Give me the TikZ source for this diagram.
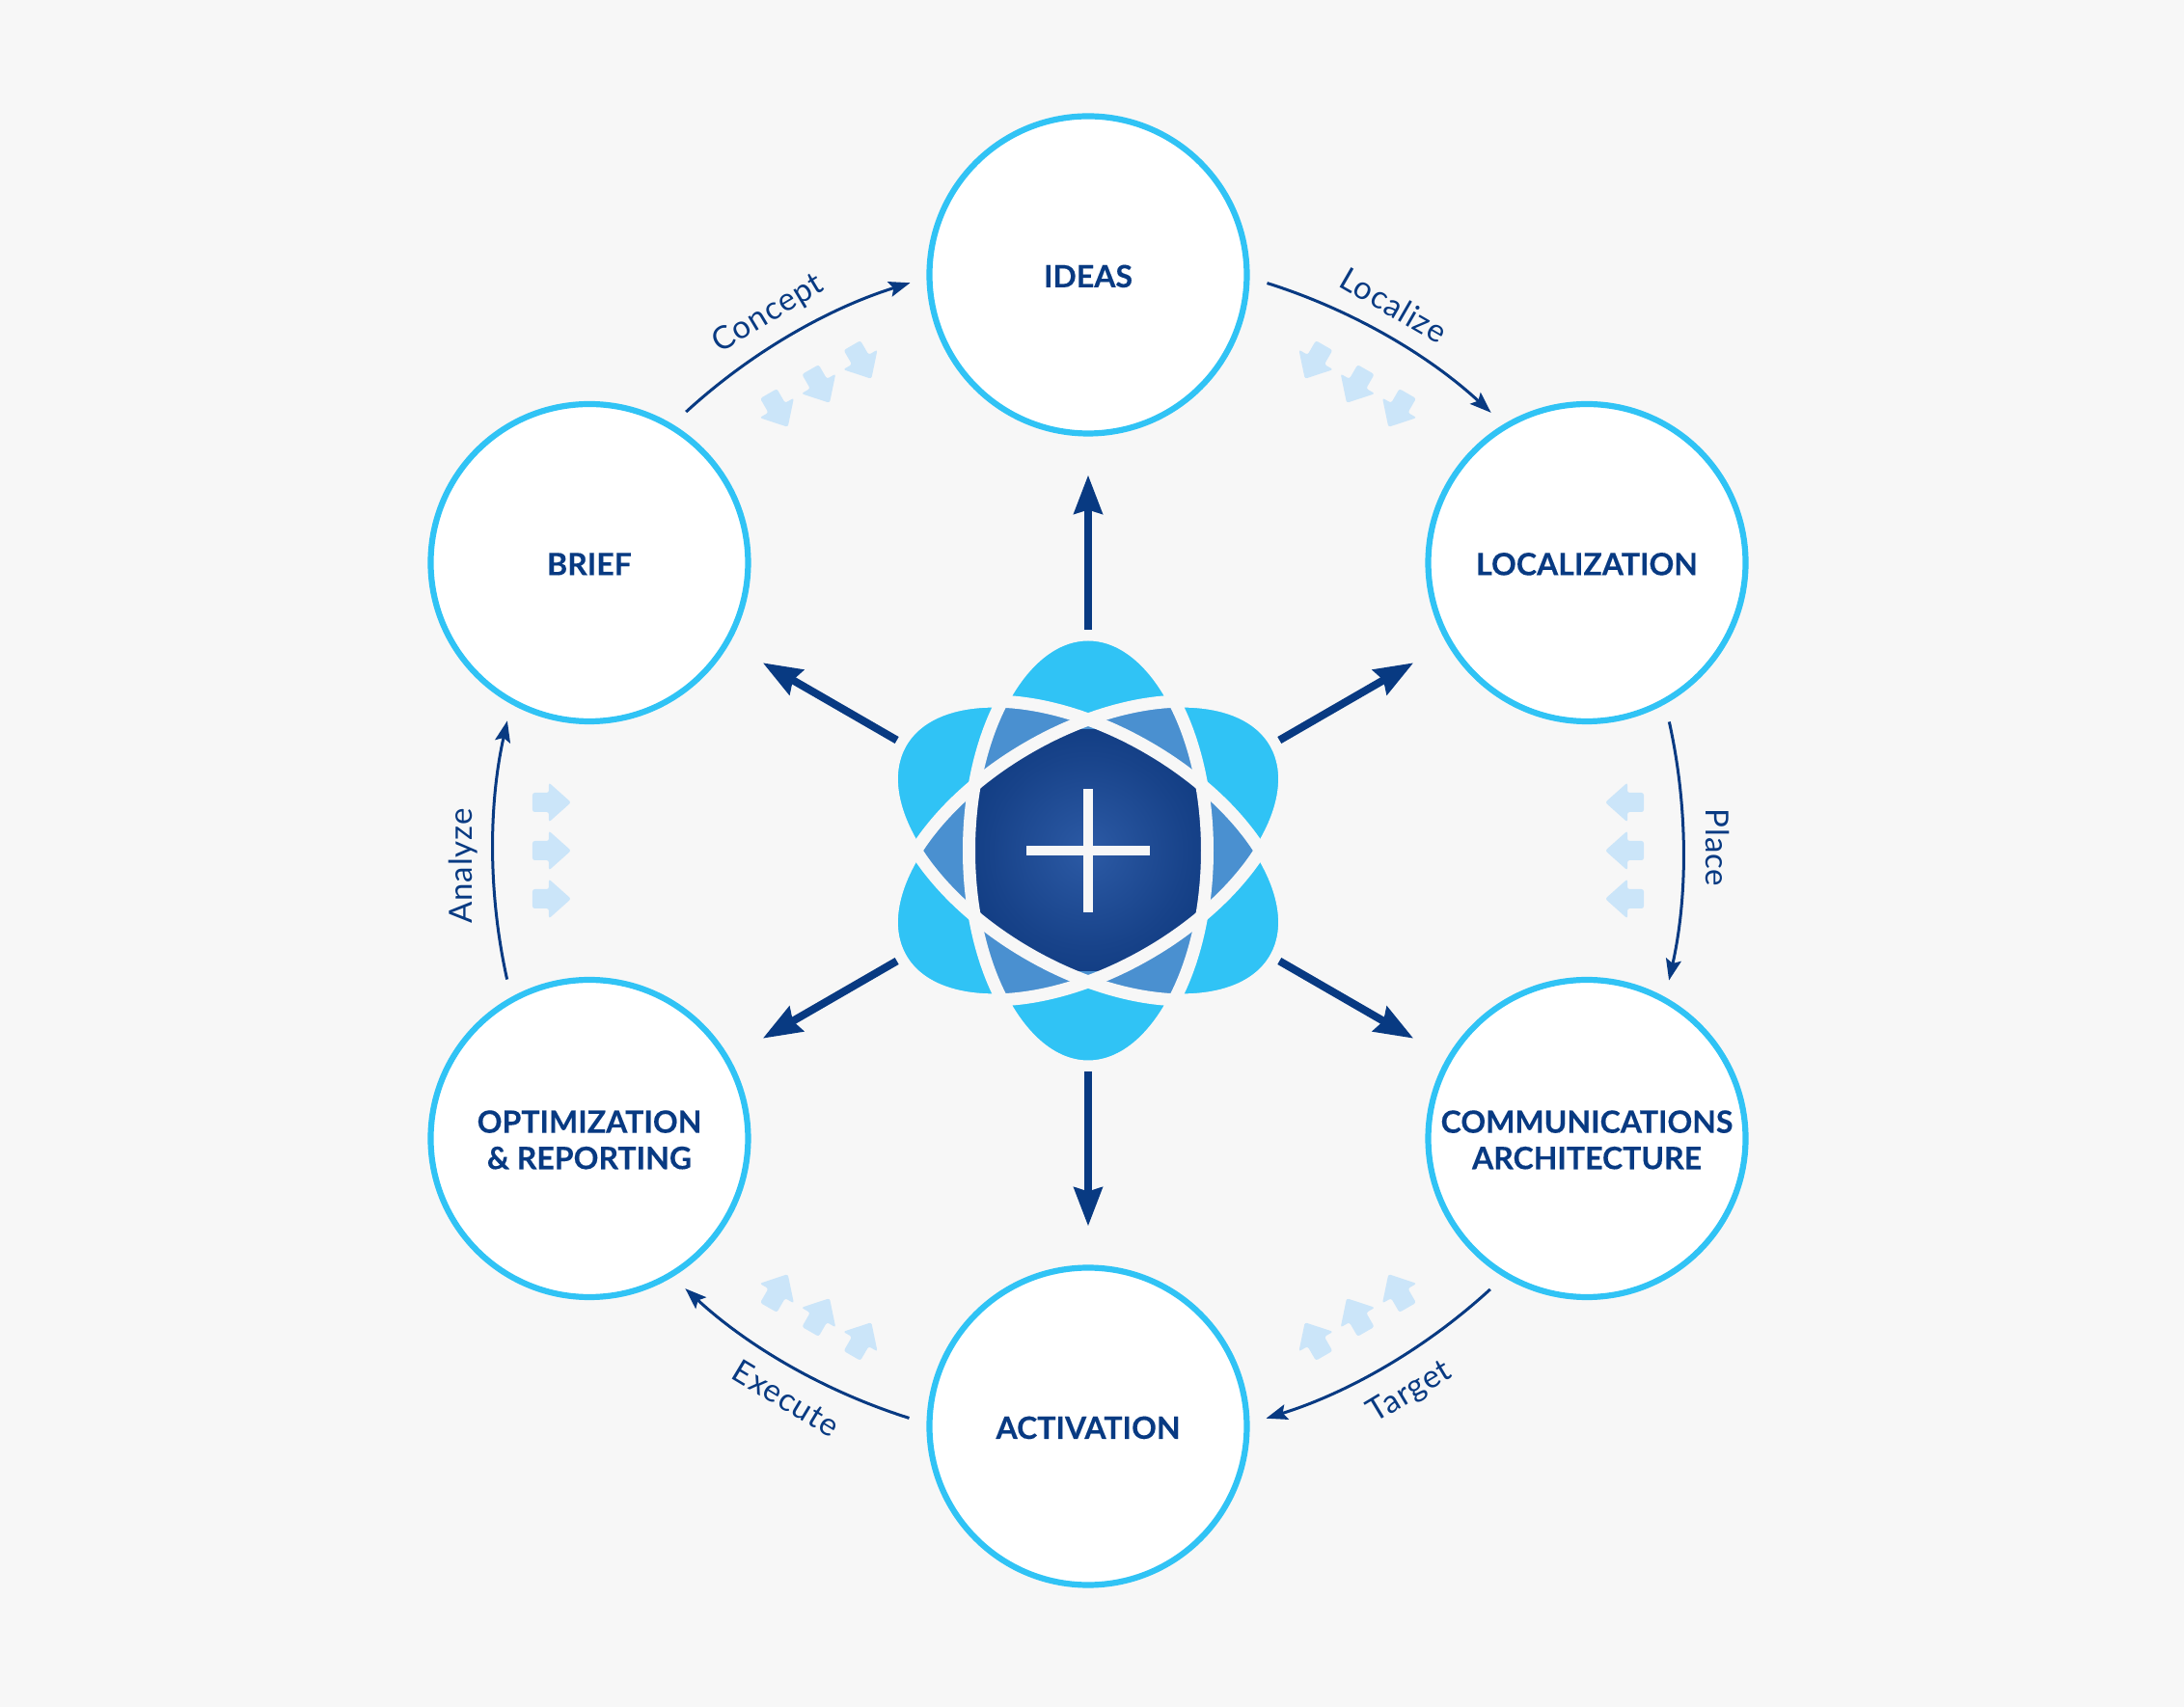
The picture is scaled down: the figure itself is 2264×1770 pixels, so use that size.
\documentclass[tikz,border=0pt]{standalone}
\usepackage{fontspec}
\setmainfont{Lato}
\usetikzlibrary{arrows.meta,calc}
\definecolor{bgc}{HTML}{F7F7F7}
\definecolor{cyanc}{HTML}{30C3F5}
\definecolor{midc}{HTML}{4A90D0}
\definecolor{navy}{HTML}{083A82}
\definecolor{pale}{HTML}{CBE5F9}
\definecolor{hubin}{HTML}{2C5AA5}
\definecolor{hubmid}{HTML}{18438A}
\definecolor{hubout}{HTML}{053276}
\newfontfamily\stepfont[LetterSpace=3]{Lato}
\newfontfamily\stagefont[FakeBold=0.25]{Lato Bold}
\pgfdeclareradialshading{hubshade}{\pgfpoint{0bp}{0bp}}{color(0bp)=(hubin); color(20bp)=(hubmid); color(40bp)=(hubout); color(100bp)=(hubout)}
\tikzset{
  x=0.5pt,y=0.5pt,
  stage/.style={circle,draw=cyanc,fill=white,line width=3.1pt,minimum size=164.5pt,inner sep=0pt,outer sep=0pt},
  stagetext/.style={text=navy,align=center,inner sep=0pt,font=\fontsize{16}{18.8}\stagefont},
  spoke/.style={draw=navy,line width=4pt,-{Stealth[length=20pt,width=14.5pt,inset=2pt]},shorten >=21.5pt},
  flow/.style={draw=navy,line width=1.5pt,-{Stealth[length=11pt,width=8pt,inset=2pt]},bend left=12.6,looseness=0.86},
  steplabel/.style={text=navy,font=\fontsize{16.5}{18}\stepfont,inner sep=0pt},
  ring/.style={draw=bgc,line width=6.5pt},
  palearrow/.style={fill=pale,draw=none,rounded corners=1.2pt},
}
\begin{document}
\begin{tikzpicture}
\useasboundingbox (-1128,-888) rectangle (1136,882);
\fill[bgc] (-1128,-888) rectangle (1136,882);
% flower
\foreach \r in {0,60,120} \fill[cyanc,rotate=\r] (0,0) ellipse [x radius=123.5,y radius=224];
\foreach \p/\q in {0/60,60/120,0/120}{
  \begin{scope}
    \clip[rotate=\p] (0,0) ellipse [x radius=123.5,y radius=224];
    \clip[rotate=\q] (0,0) ellipse [x radius=123.5,y radius=224];
    \fill[midc] (-230,-230) rectangle (230,230);
  \end{scope}
}
\begin{scope}
  \clip[rotate=0] (0,0) ellipse [x radius=123.5,y radius=224];
  \clip[rotate=60] (0,0) ellipse [x radius=123.5,y radius=224];
  \clip[rotate=120] (0,0) ellipse [x radius=123.5,y radius=224];
  \shade[shading=hubshade] (-125,-125) rectangle (125,125);
\end{scope}
\foreach \r in {0,60,120} \draw[ring,rotate=\r] (0,0) ellipse [x radius=123.5,y radius=224];
\fill[bgc] (-64,-5) rectangle (64,5);
\fill[bgc] (-5,-64) rectangle (5,64);
% nodes
\node[circle,minimum size=229pt,inner sep=0pt,outer sep=0pt] (hub) at (0,0) {};
\node[stage] (ideas) at (90:597) {};
\node[stage] (local) at (30:597) {};
\node[stage] (comm) at (-30:597) {};
\node[stage] (activ) at (-90:597) {};
\node[stage] (optim) at (-150:597) {};
\node[stage] (brief) at (150:597) {};
\node[stagetext,yshift=-0.7pt] (tideas) at (ideas) {IDEAS};
\node[stagetext,yshift=-0.7pt] (tlocal) at (local) {LOCALIZATION};
\node[stagetext,yshift=-0.7pt] (tcomm) at (comm) {COMMUNICATIONS\\ARCHITECTURE};
\node[stagetext,yshift=-0.7pt] (tactiv) at (activ) {ACTIVATION};
\node[stagetext,yshift=-0.7pt] (toptim) at (optim) {OPTIMIZATION\\\&\ REPORTING};
\node[stagetext,yshift=-0.7pt] (tbrief) at (brief) {BRIEF};
% spokes
\foreach \t in {ideas,local,comm,activ,optim,brief} \draw[spoke] (hub) -- (\t);
% flow arrows
\foreach \n/\a in {c/120,l/60,p/0,t/-60,e/-120,z/180}{
  \coordinate (s\n) at (\a+12.5:617);
  \coordinate (f\n) at (\a-12.6:617);
  \draw[flow] (s\n) to (f\n);
}
% labels
\node[steplabel,rotate=31] (lc) at (-331.6,556.5) {Concept};
\node[steplabel,rotate=-30] (ll) at (317,565.6) {Localize};
\node[steplabel,rotate=-90] (lp) at (653,3) {Place};
\node[steplabel,rotate=31] (lt) at (334,-562) {Target};
\node[steplabel,rotate=-31] (le) at (-313,-568) {Execute};
\node[steplabel,rotate=90] (la) at (-648,-16) {Analyze};
% pale arrows
\foreach \a in {0,60,120,180,240,300}
  \foreach \o in {-50,0,50}{
    \begin{scope}[rotate=\a,shift={(556,\o)}]
      \fill[palearrow] (20,-10) -- (3,-10) -- (3,-20.5) -- (-20,0) -- (3,20.5) -- (3,10) -- (20,10) -- cycle;
    \end{scope}
  }
\end{tikzpicture}
\end{document}
